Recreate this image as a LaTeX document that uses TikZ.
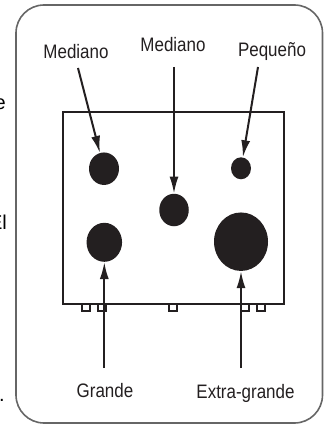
\documentclass[tikz,border=0pt]{standalone}
\usepackage{fontspec}
\setmainfont{Liberation Sans}
\newfontfamily\narrowfont[FakeStretch=0.87]{Liberation Sans}
\usetikzlibrary{arrows.meta,shapes.geometric}

\definecolor{holefill}{HTML}{231F20}
\definecolor{framegray}{HTML}{666666}

\tikzset{
  lbl/.style={font=\narrowfont\fontsize{19.5}{21}\selectfont, text=holefill, inner sep=0pt, anchor=base},
  frag/.style={font=\fontsize{20}{22}\selectfont, inner sep=0pt, anchor=base east},
  hole/.style={ellipse, fill=holefill, draw=none, inner sep=0pt},
  pointer/.style={->, line width=2pt, holefill},
}

\begin{document}
\begin{tikzpicture}[x=1pt,y=-1pt,>={Latex[length=17pt,width=9pt]}]
  \useasboundingbox (0,0) rectangle (324,425);
  % cut-off text at the left margin
  \node[frag] (fe) at (6,110) {e};
  \node[frag] (fel) at (7,229) {El};
  \node[frag] (fdot) at (5,401) {.};
  % frame
  \draw[framegray, line width=1.6pt, rounded corners=28pt] (16,5) rectangle (322.5,423);
  % panel and feet
  \draw[line width=1.5pt, holefill] (63,112) rectangle (284,304);
  \foreach \x in {82,98,169,241,257}
    \draw[line width=1.2pt, holefill] (\x,304) rectangle ++(8,7);
  % holes
  \node[hole, minimum width=30pt, minimum height=32.5pt] (h1) at (104,168.7) {};
  \node[hole, minimum width=29.5pt, minimum height=32.5pt] (h2) at (174,210) {};
  \node[hole, minimum width=20pt, minimum height=22pt] (h3) at (241,168.3) {};
  \node[hole, minimum width=35.5pt, minimum height=39pt] (h4) at (104.3,242.3) {};
  \node[hole, minimum width=54pt, minimum height=58.5pt] (h5) at (241,241.7) {};
  % labels
  \node[lbl] (m1) at (76,59) {Mediano};
  \node[lbl] (m2) at (173,52) {Mediano};
  \node[lbl] (peq) at (272,57) {Pequeño};
  \node[lbl] (gr) at (105,397) {Grande};
  \node[lbl] (xg) at (245.5,398) {Extra-grande};
  % arrow tails
  \coordinate (m1t) at (78,68);
  \coordinate (m2t) at (174,67);
  \coordinate (peqt) at (258,67);
  \coordinate (grt) at (104.3,368);
  \coordinate (xgt) at (241,368);
  \draw[pointer] (m1t) -- (h1);
  \draw[pointer] (m2t) -- (h2);
  \draw[pointer] (peqt) -- (h3);
  \draw[pointer] (grt) -- (h4);
  \draw[pointer] (xgt) -- (h5);
\end{tikzpicture}
\end{document}
